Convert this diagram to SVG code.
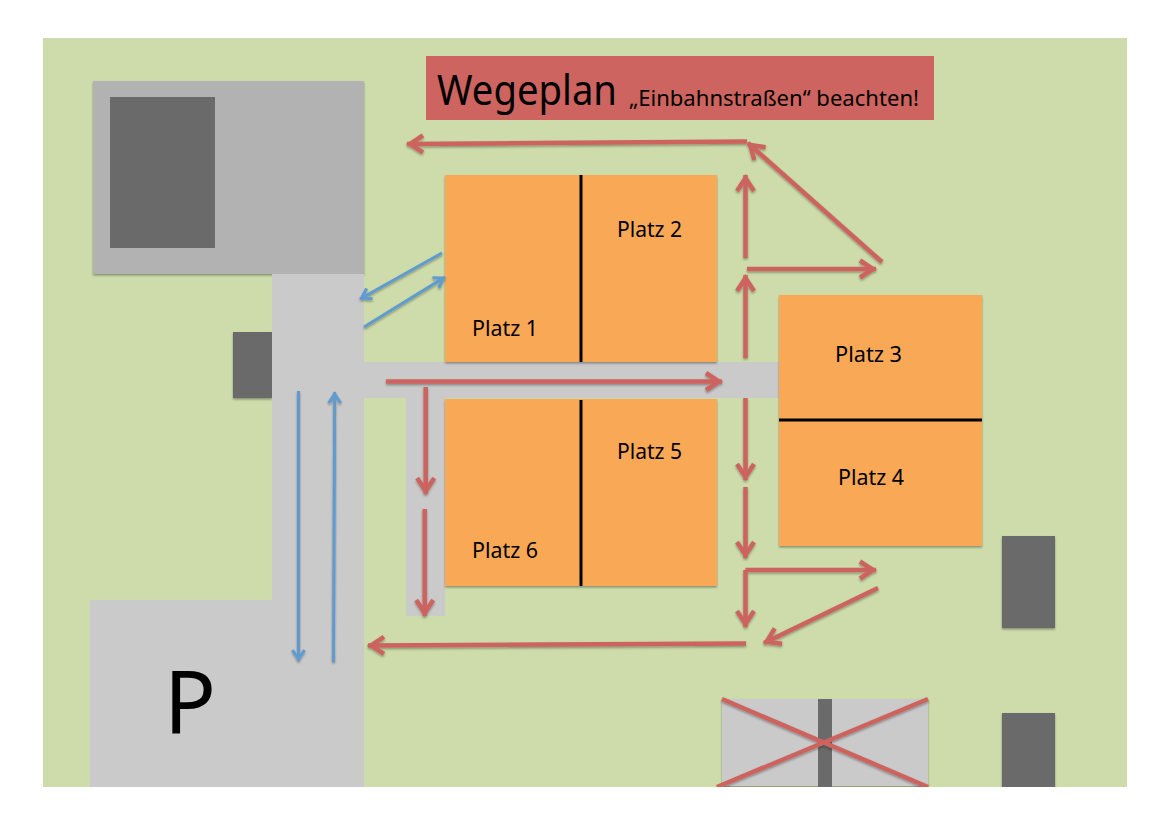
<svg xmlns="http://www.w3.org/2000/svg" width="1169" height="826" viewBox="0 0 1169 826">
<style>
.t{font-family:"Noto Sans","Open Sans","DejaVu Sans",sans-serif;fill:#000}
.p{font-size:21px}
.o{fill:#f9a856}.g{fill:#cacaca}.d{fill:#6b6b6b}
.r{stroke:#cd645f;stroke-width:4.500;fill:none}
.b{stroke:#5f9bd0;stroke-width:3;fill:none}
.ra{marker-end:url(#rh)}.ba{marker-end:url(#bh)}
</style>
<defs>
<filter id="s" x="-10%" y="-10%" width="120%" height="120%"><feDropShadow dx="0" dy="1.5" stdDeviation="1.2" flood-color="#000" flood-opacity="0.35"/></filter>
<marker id="rh" markerUnits="userSpaceOnUse" markerWidth="24" markerHeight="24" refX="20" refY="12" orient="auto" overflow="visible"><path d="M4,3.5 L17,12 L4,20.5" fill="none" stroke="#cd645f" stroke-width="4.5"/></marker>
<marker id="bh" markerUnits="userSpaceOnUse" markerWidth="18" markerHeight="18" refX="15" refY="9" orient="auto" overflow="visible"><path d="M4,3 L13,9 L4,15" fill="none" stroke="#5f9bd0" stroke-width="3"/></marker>
<clipPath id="page"><rect x="43" y="38" width="1084" height="749"/></clipPath>
</defs>
<rect x="43" y="38" width="1084" height="749" fill="#cddcaa"/>
<g clip-path="url(#page)">
<g id="gebaeude" filter="url(#s)"><rect x="93" y="81" width="271" height="193" fill="#b2b2b2"/><rect class="d" x="110" y="97" width="105" height="151"/></g>
<g id="haus-links" filter="url(#s)"><rect class="d" x="233" y="332" width="39" height="66"/></g>
<g id="wege">
<rect class="g" x="272" y="274" width="92" height="513"/>
<rect class="g" x="90" y="600" width="274" height="187"/>
<rect class="g" x="364" y="362" width="415" height="36"/>
<rect class="g" x="406" y="398" width="39" height="218"/>
</g>
<g id="parkplatz"><text class="t" x="164" y="733" font-size="88" textLength="52" lengthAdjust="spacingAndGlyphs">P</text></g>
<g id="platz-1-2" filter="url(#s)"><rect class="o" x="445" y="175" width="272" height="187"/></g>
<path d="M581 175V362" stroke="#000" stroke-width="3"/>
<g id="platz-5-6" filter="url(#s)"><rect class="o" x="445" y="399" width="272" height="187"/></g>
<path d="M581 400V586" stroke="#000" stroke-width="3"/>
<g id="platz-3-4" filter="url(#s)"><rect class="o" x="779" y="295" width="203" height="251"/></g>
<path d="M779 420H982" stroke="#000" stroke-width="3"/>
<g id="haus-r1" filter="url(#s)"><rect class="d" x="1002" y="536" width="53" height="92"/></g>
<g id="haus-r2" filter="url(#s)"><rect class="d" x="1002" y="713" width="53" height="80"/></g>
<g id="gesperrt" filter="url(#s)"><rect class="g" x="722" y="699" width="206" height="87"/><rect class="d" x="818" y="699" width="14" height="90"/></g>
<g id="titel"><rect x="426" y="56" width="508" height="64" fill="#cd645f"/>
<text class="t" x="437" y="105" font-size="41" textLength="180" lengthAdjust="spacingAndGlyphs">Wegeplan</text>
<text class="t" x="629" y="106" font-size="21" textLength="290" lengthAdjust="spacingAndGlyphs">„Einbahnstraßen“ beachten!</text></g>
<g id="labels">
<text class="t p" x="472" y="336" textLength="66" lengthAdjust="spacingAndGlyphs">Platz 1</text>
<text class="t p" x="617" y="237" textLength="65" lengthAdjust="spacingAndGlyphs">Platz 2</text>
<text class="t p" x="835" y="362" textLength="67" lengthAdjust="spacingAndGlyphs">Platz 3</text>
<text class="t p" x="838" y="485" textLength="66" lengthAdjust="spacingAndGlyphs">Platz 4</text>
<text class="t p" x="617" y="459" textLength="65" lengthAdjust="spacingAndGlyphs">Platz 5</text>
<text class="t p" x="472" y="558" textLength="66" lengthAdjust="spacingAndGlyphs">Platz 6</text>
</g>
<g id="connectors" filter="url(#s)">
<path class="b ba" d="M442 253L360 299"/>
<path class="b ba" d="M364 327L445 277"/>
<path class="b ba" d="M298.500 391V661"/>
<path class="b ba" d="M333.500 662L334.700 392"/>
<path class="r ra" d="M747 141.500L407 144"/>
<path class="r ra" d="M882 262L748 143"/>
<path class="r ra" d="M745.500 258V175"/>
<path class="r ra" d="M747 269H876"/>
<path class="r ra" d="M745.500 358V275"/>
<path class="r ra" d="M386 381.500H722"/>
<path class="r ra" d="M745.500 398V480"/>
<path class="r ra" d="M745.500 487V558"/>
<path class="r ra" d="M745.500 570H876"/>
<path class="r ra" d="M745.500 570V627"/>
<path class="r ra" d="M878 588L764 643"/>
<path class="r ra" d="M746 643.500L368 645.500"/>
<path class="r ra" d="M425.700 387V494"/>
<path class="r ra" d="M424.700 509V616"/>
<path class="r" d="M722 699L928 787"/>
<path class="r" d="M928 699L717 787"/>
</g>
</g>
</svg>
